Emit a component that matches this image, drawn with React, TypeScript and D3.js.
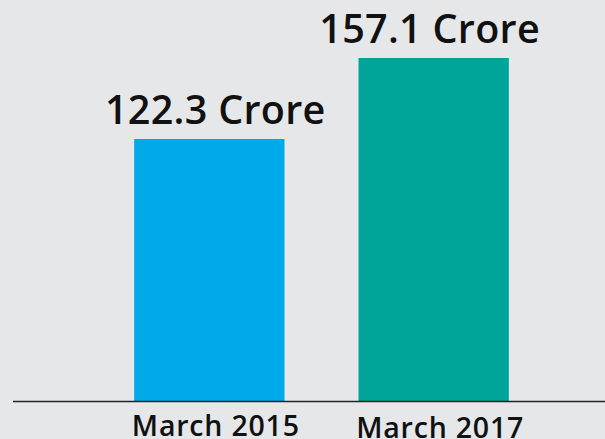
import React from "react";
import * as d3 from "d3";

const categories = ["March 2015", "March 2017"];
const values = [122.3, 157.1];
const valueLabels = ["122.3 Crore", "157.1 Crore"];
const colors = ["#00aae9", "#00a59a"];
const labelShift = [6, -4];

const W = 605;
const H = 439;

export default function App() {
  const x = d3.scaleBand<string>().domain(categories).range([22, 621]).paddingInner(0.33).paddingOuter(0.5);
  const y = d3.scaleLinear().domain([9.75, 157.1]).range([401, 58]);
  const bw = x.bandwidth();
  return (
    <svg
      width={W}
      height={H}
      style={{ position: "absolute", left: 0, top: 0, background: "#e6e7e9" }}
      fontFamily="'Open Sans', sans-serif"
    >
      <rect x={0} y={0} width={W} height={H} fill="#e6e7e9" />
      {categories.map((c, i) => (
        <g key={c}>
          <rect x={x(c)} y={y(values[i])} width={bw} height={y.range()[0] - y(values[i])} fill={colors[i]} />
          <text
            x={(x(c) as number) + bw / 2 + labelShift[i]}
            y={y(values[i]) - 15}
            textAnchor="middle"
            fontSize={39.5}
            fontWeight={600}
            letterSpacing={0.3}
            fill="#111"
          >
            {valueLabels[i]}
          </text>
          <text
            x={(x(c) as number) + bw / 2 + 6.5}
            y={436 + i * 2}
            textAnchor="middle"
            fontSize={28.5}
            fontWeight={600}
            letterSpacing={0.8}
            fill="#111"
          >
            {c}
          </text>
        </g>
      ))}
      <line x1={13} x2={W} y1={401.5} y2={401.5} stroke="#222" strokeWidth={1.5} />
    </svg>
  );
}
